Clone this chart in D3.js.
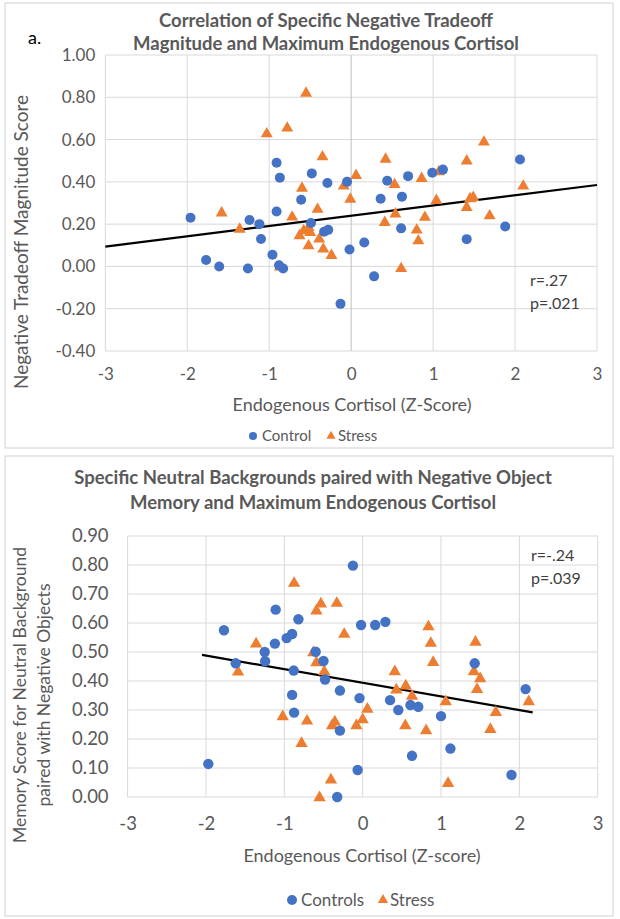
<!DOCTYPE html>
<html lang="en">
<head>
<meta charset="UTF-8">
<title>Cortisol correlations</title>
<script src="https://cdn.jsdelivr.net/npm/d3@7"></script>
<style>
body { margin: 0; background: #fff; }
svg { display: block; font-family: Lato, "Open Sans", sans-serif; }
</style>
</head>
<body>
<svg id="chart" width="620" height="919"></svg>
<script>
// ---- panel a: tradeoff magnitude vs cortisol ----
var xTicks = [-3, -2, -1, 0, 1, 2, 3];
var yTicksA = [-0.4, -0.2, 0, 0.2, 0.4, 0.6, 0.8, 1.0];
var controlA = [
  [-1.96, 0.23], [-1.77, 0.03], [-1.61, 0.00], [-1.26, -0.01], [-1.24, 0.22],
  [-1.12, 0.20], [-1.10, 0.13], [-0.96, 0.055], [-0.91, 0.26], [-0.91, 0.49],
  [-0.87, 0.42], [-0.88, 0.005], [-0.83, -0.01], [-0.61, 0.315], [-0.49, 0.205],
  [-0.48, 0.44], [-0.33, 0.164], [-0.28, 0.173], [-0.29, 0.395], [-0.05, 0.40],
  [-0.13, -0.177], [-0.02, 0.08], [0.16, 0.113], [0.28, -0.047], [0.36, 0.32],
  [0.44, 0.405], [0.62, 0.33], [0.61, 0.18], [0.695, 0.427], [0.99, 0.443],
  [1.12, 0.458], [1.41, 0.129], [1.88, 0.189], [2.06, 0.506]
];
var stressA = [
  [-1.58, 0.253], [-1.36, 0.176], [-1.03, 0.627], [-0.87, -0.003], [-0.78, 0.654],
  [-0.72, 0.233], [-0.63, 0.145], [-0.60, 0.37], [-0.58, 0.168], [-0.55, 0.819],
  [-0.52, 0.184], [-0.52, 0.097], [-0.50, 0.16], [-0.41, 0.27], [-0.39, 0.129],
  [-0.35, 0.518], [-0.34, 0.082], [-0.24, 0.052], [-0.09, 0.38], [-0.01, 0.318],
  [0.06, 0.43], [0.41, 0.208], [0.42, 0.507], [0.53, 0.387], [0.54, 0.248],
  [0.61, -0.01], [0.80, 0.172], [0.82, 0.121], [0.86, 0.416], [0.90, 0.232],
  [1.04, 0.312], [1.07, 0.447], [1.41, 0.279], [1.41, 0.499], [1.45, 0.32],
  [1.49, 0.326], [1.62, 0.588], [1.69, 0.239], [2.10, 0.38]
];
var fitA = [[-3, 0.094], [3, 0.385]];
var statsA = ["r=.27", "p=.021"];

// ---- panel b: neutral background memory vs cortisol ----
var yTicksB = [0, 0.1, 0.2, 0.3, 0.4, 0.5, 0.6, 0.7, 0.8, 0.9];
var controlB = [
  [-1.97, 0.114], [-1.77, 0.575], [-1.62, 0.461], [-1.25, 0.50], [-1.245, 0.468],
  [-1.12, 0.529], [-1.11, 0.646], [-0.97, 0.548], [-0.90, 0.562], [-0.90, 0.352],
  [-0.88, 0.436], [-0.875, 0.291], [-0.82, 0.613], [-0.60, 0.501], [-0.50, 0.469],
  [-0.48, 0.405], [-0.325, 0.0], [-0.29, 0.367], [-0.29, 0.229], [-0.124, 0.798],
  [-0.064, 0.093], [-0.04, 0.341], [-0.02, 0.593], [0.16, 0.593], [0.29, 0.604],
  [0.35, 0.334], [0.455, 0.30], [0.61, 0.317], [0.63, 0.142], [0.71, 0.311],
  [1.00, 0.279], [1.12, 0.167], [1.43, 0.461], [1.90, 0.076], [2.08, 0.372]
];
var stressB = [
  [-1.59, 0.431], [-1.36, 0.528], [-1.02, 0.277], [-0.875, 0.737], [-0.78, 0.185],
  [-0.71, 0.262], [-0.63, 0.498], [-0.59, 0.642], [-0.59, 0.463], [-0.55, -0.002],
  [-0.533, 0.666], [-0.49, 0.432], [-0.405, 0.059], [-0.39, 0.246], [-0.355, 0.259],
  [-0.33, 0.668], [-0.235, 0.561], [-0.08, 0.246], [0.0, 0.267], [0.06, 0.303],
  [0.41, 0.432], [0.43, 0.369], [0.545, 0.246], [0.55, 0.383], [0.63, 0.348],
  [0.81, 0.229], [0.84, 0.587], [0.87, 0.53], [0.90, 0.464], [1.06, 0.329],
  [1.09, 0.047], [1.42, 0.432], [1.44, 0.534], [1.46, 0.371], [1.50, 0.408],
  [1.63, 0.233], [1.70, 0.292], [2.12, 0.329]
];
var fitB = [[-2.05, 0.49], [2.17, 0.292]];
var statsB = ["r=-.24", "p=.039"];

var blue = "#4472c4", orange = "#ed7d31", grid = "#d9d9d9", txt = "#595959";
var svg = d3.select("#chart");

function drawPanel(cfg) {
  var g = svg.append("g");
  g.append("rect")
    .attr("x", cfg.box[0]).attr("y", cfg.box[1])
    .attr("width", cfg.box[2]).attr("height", cfg.box[3])
    .attr("fill", "#fff").attr("stroke", "#d9d9d9").attr("stroke-width", 1.2);

  var x = d3.scaleLinear().domain([-3, 3]).range([cfg.left, cfg.right]);
  var y = d3.scaleLinear().domain(cfg.yDomain).range([cfg.bottom, cfg.top]);

  // gridlines
  g.selectAll(".hg").data(cfg.yTicks).enter().append("line")
    .attr("x1", cfg.left).attr("x2", cfg.right)
    .attr("y1", function(d) { return y(d); }).attr("y2", function(d) { return y(d); })
    .attr("stroke", grid);
  g.selectAll(".vg").data(xTicks).enter().append("line")
    .attr("y1", cfg.top).attr("y2", cfg.bottom)
    .attr("x1", function(d) { return x(d); }).attr("x2", function(d) { return x(d); })
    .attr("stroke", function(d) { return d === 0 ? cfg.zeroColor : grid; });

  // axes (labels only)
  var yAxis = d3.axisLeft(y).tickValues(cfg.yTicks).tickSize(0).tickPadding(cfg.yPad)
    .tickFormat(function(d) { return d.toFixed(2); });
  var ya = g.append("g").attr("transform", "translate(" + cfg.left + ",0)").call(yAxis);
  var xAxis = d3.axisBottom(x).tickValues(xTicks).tickSize(0).tickPadding(cfg.xPad)
    .tickFormat(function(d) { return String(d); });
  var xa = g.append("g").attr("transform", "translate(0," + cfg.bottom + ")").call(xAxis);
  [ya, xa].forEach(function(a) {
    a.select(".domain").remove();
    a.selectAll("text").attr("fill", txt).style("font-size", cfg.tickSize + "px")
      .style("font-family", "Lato, sans-serif");
  });

  // trend line
  g.append("line")
    .attr("x1", x(cfg.fit[0][0])).attr("y1", y(cfg.fit[0][1]))
    .attr("x2", x(cfg.fit[1][0])).attr("y2", y(cfg.fit[1][1]))
    .attr("stroke", "#000").attr("stroke-width", 2.2);

  // points
  var tri = d3.symbol().type(d3.symbolTriangle).size(cfg.triSize);
  g.selectAll(".st").data(cfg.stress).enter().append("path")
    .attr("d", tri)
    .attr("transform", function(d) { return "translate(" + x(d[0]) + "," + y(d[1]) + ")"; })
    .attr("fill", orange);
  g.selectAll(".ct").data(cfg.control).enter().append("circle")
    .attr("cx", function(d) { return x(d[0]); })
    .attr("cy", function(d) { return y(d[1]); })
    .attr("r", cfg.r).attr("fill", blue);

  // titles
  var t = g.append("text").attr("text-anchor", "middle").attr("fill", txt)
    .style("font-weight", "bold").style("font-size", cfg.titleSize + "px");
  cfg.title.forEach(function(line, i) {
    t.append("tspan").attr("x", cfg.titleX).attr("y", cfg.titleY + i * cfg.titleGap).text(line);
  });

  var yt = g.append("text").attr("text-anchor", "middle").attr("fill", txt)
    .style("font-size", cfg.yTitleSize + "px")
    .attr("transform", "translate(" + cfg.yTitleX + "," + cfg.yTitleY + ") rotate(-90)");
  cfg.yTitle.forEach(function(line, i) {
    yt.append("tspan").attr("x", 0).attr("y", i * cfg.yTitleGap).text(line);
  });

  g.append("text").attr("x", cfg.xTitleX).attr("y", cfg.xTitleY)
    .attr("text-anchor", "middle").attr("fill", txt)
    .style("font-size", cfg.xTitleSize + "px").text(cfg.xTitle);

  // stats
  cfg.stats.forEach(function(s, i) {
    g.append("text").attr("x", cfg.statsX).attr("y", cfg.statsY + i * 23)
      .attr("fill", "#404040").style("font-size", "16px").text(s);
  });

  // legend
  var lg = g.append("g").attr("transform", "translate(" + cfg.legendX + "," + cfg.legendY + ")")
    .style("font-size", cfg.legendSize + "px");
  lg.append("circle").attr("cx", 0).attr("cy", 0).attr("r", cfg.legendR).attr("fill", blue);
  lg.append("text").attr("x", 9).attr("y", 0).attr("dy", "0.35em").attr("fill", txt).text(cfg.legend[0]);
  lg.append("path").attr("d", d3.symbol().type(d3.symbolTriangle).size(cfg.legendTri))
    .attr("transform", "translate(" + cfg.legendGap + ",0)").attr("fill", orange);
  lg.append("text").attr("x", cfg.legendGap + 7).attr("y", 0).attr("dy", "0.35em")
    .attr("fill", txt).text(cfg.legend[1]);
}

drawPanel({
  box: [5, 3, 608, 445],
  left: 105.3, right: 597, top: 55, bottom: 351,
  yDomain: [-0.4, 1.0], yTicks: yTicksA, yPad: 10, xPad: 17, tickSize: 17,
  zeroColor: "#bfbfbf",
  control: controlA, stress: stressA, fit: fitA, r: 5, triSize: 62,
  title: ["Correlation of Specific Negative Tradeoff", "Magnitude and Maximum Endogenous Cortisol"],
  titleX: 326, titleY: 27, titleGap: 23, titleSize: 18.5,
  yTitle: ["Negative Tradeoff Magnitude Score"], yTitleX: 28, yTitleY: 242, yTitleSize: 19, yTitleGap: 0,
  xTitle: "Endogenous Cortisol (Z-Score)", xTitleX: 352, xTitleY: 411, xTitleSize: 18,
  stats: statsA, statsX: 530, statsY: 286,
  legend: ["Control", "Stress"], legendX: 253, legendY: 436, legendSize: 15,
  legendR: 4, legendTri: 36, legendGap: 78
});

drawPanel({
  box: [5, 456, 608, 460],
  left: 127.6, right: 597.7, top: 536, bottom: 797,
  yDomain: [0, 0.9], yTicks: yTicksB, yPad: 19, xPad: 20, tickSize: 18.5,
  zeroColor: grid,
  control: controlB, stress: stressB, fit: fitB, r: 5.2, triSize: 66,
  title: ["Specific Neutral Backgrounds paired with Negative Object", "Memory and Maximum Endogenous Cortisol"],
  titleX: 313, titleY: 484, titleGap: 25, titleSize: 18.5,
  yTitle: ["Memory Score for Neutral Background", "paired with Negative Objects"],
  yTitleX: 26, yTitleY: 695, yTitleSize: 17.5, yTitleGap: 24,
  xTitle: "Endogenous Cortisol (Z-score)", xTitleX: 362, xTitleY: 862, xTitleSize: 18,
  stats: statsB, statsX: 531, statsY: 561,
  legend: ["Controls", "Stress"], legendX: 292, legendY: 900, legendSize: 17,
  legendR: 5, legendTri: 46, legendGap: 91
});

svg.append("text").attr("x", 28).attr("y", 44).attr("fill", "#000")
  .style("font-size", "18px").text("a.");
</script>
</body>
</html>
